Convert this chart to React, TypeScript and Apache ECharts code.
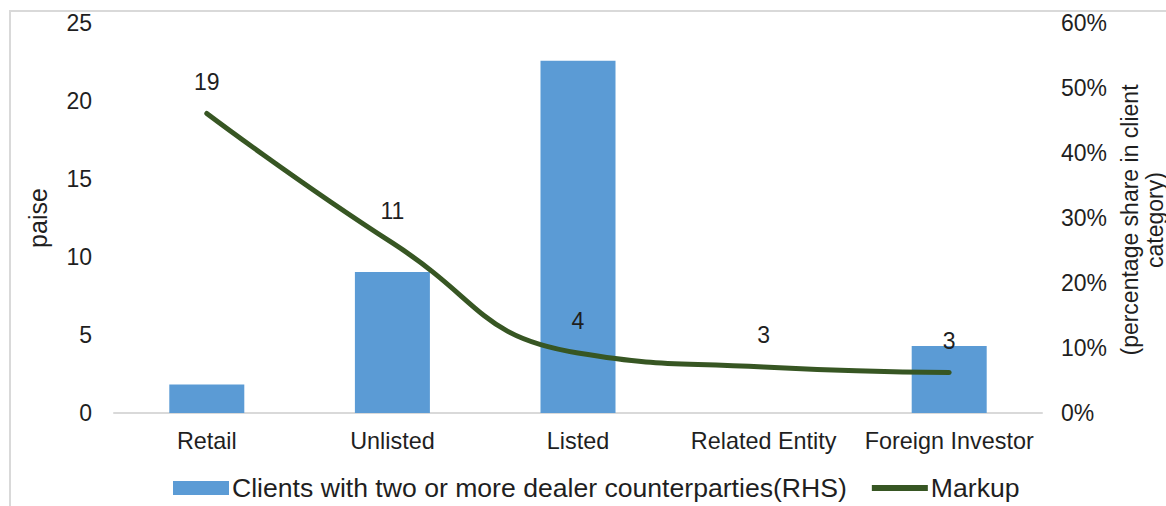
import React, { useEffect, useRef } from "react";
import * as echarts from "echarts";

const categories = ["Retail", "Unlisted", "Listed", "Related Entity", "Foreign Investor"];
const clientsShare = [4.4, 21.7, 54.2, 0, 10.3];
const markup = [19.2, 10.9, 3.85, 2.95, 2.6];
const leftTicks = { min: 0, max: 25, interval: 5 };
const rightTicks = { min: 0, max: 60, interval: 10 };
const rightAxisName = "(percentage share in client\ncategory)";

const FONT = "'Liberation Sans', Arial, sans-serif";
const TXT = "#1f1f1f";
const BAR_NAME = "Clients with two or more dealer counterparties(RHS)";

export default function App() {
  const ref = useRef<HTMLDivElement>(null);
  useEffect(() => {
    if (!ref.current) return;
    const chart = echarts.init(ref.current, undefined, { renderer: "svg" });
    chart.setOption({
      animation: false,
      backgroundColor: "#ffffff",
      textStyle: { fontFamily: FONT },
      graphic: [
        {
          type: "rect",
          shape: { x: 10, y: 11, width: 1200, height: 520 },
          style: { fill: "none", stroke: "#d9d9d9", lineWidth: 2 },
          silent: true,
          z: -10,
        },
        {
          type: "text",
          x: 1142,
          y: 220,
          rotation: Math.PI / 2,
          style: {
            text: rightAxisName,
            fontSize: 23,
            lineHeight: 25,
            fontFamily: FONT,
            fill: TXT,
            align: "center",
            verticalAlign: "middle",
          },
        },
      ],
      grid: {
        left: 114,
        right: 124,
        top: 23,
        bottom: 93,
        containLabel: false,
        outerBoundsMode: "none",
      },
      legend: {
        left: 173,
        top: 473,
        padding: 0,
        itemGap: 25,
        itemWidth: 56,
        itemHeight: 14,
        textStyle: { fontSize: 26.6, lineHeight: 30, color: TXT, fontFamily: FONT, padding: [0, 0, 0, -2] },
        data: [
          { name: BAR_NAME, icon: "rect" },
          { name: "Markup", icon: "path://M0,0 M56,14 M0,4 L56,4 L56,10 L0,10 Z" },
        ],
      },
      xAxis: {
        type: "category",
        data: categories,
        axisLine: { lineStyle: { color: "#d9d9d9", width: 2 } },
        axisTick: { show: false },
        axisLabel: { interval: 0, fontSize: 23.4, color: TXT, margin: 16, fontFamily: FONT },
      },
      yAxis: [
        {
          type: "value",
          ...leftTicks,
          name: "paise",
          nameLocation: "middle",
          nameRotate: 90,
          nameGap: 64,
          nameTextStyle: { fontSize: 25, color: TXT, fontFamily: FONT },
          axisLine: { show: false },
          axisTick: { show: false },
          splitLine: { show: false },
          axisLabel: { fontSize: 23, color: TXT, margin: 22, fontFamily: FONT },
        },
        {
          type: "value",
          ...rightTicks,
          position: "right",
          axisLine: { show: false },
          axisTick: { show: false },
          splitLine: { show: false },
          axisLabel: { fontSize: 23, color: TXT, margin: 19, fontFamily: FONT, formatter: "{value}%" },
        },
      ],
      series: [
        {
          name: BAR_NAME,
          type: "bar",
          yAxisIndex: 1,
          data: clientsShare,
          barWidth: 75,
          itemStyle: { color: "#5b9bd5" },
        },
        {
          name: "Markup",
          type: "line",
          yAxisIndex: 0,
          data: markup,
          smooth: 0.5,
          symbol: "circle",
          symbolSize: 0.1,
          showSymbol: true,
          lineStyle: { color: "#375623", width: 5, cap: "round" },
          itemStyle: { color: "#375623" },
          label: {
            show: true,
            position: "top",
            distance: 20,
            fontSize: 23,
            color: TXT,
            fontFamily: FONT,
            formatter: (p: any) => String(Math.round(p.value)),
          },
          z: 3,
        },
      ],
    });
    return () => chart.dispose();
  }, []);
  return (
    <div
      ref={ref}
      style={{ position: "fixed", left: 0, top: 0, width: 1166, height: 506, background: "#fff" }}
    />
  );
}
